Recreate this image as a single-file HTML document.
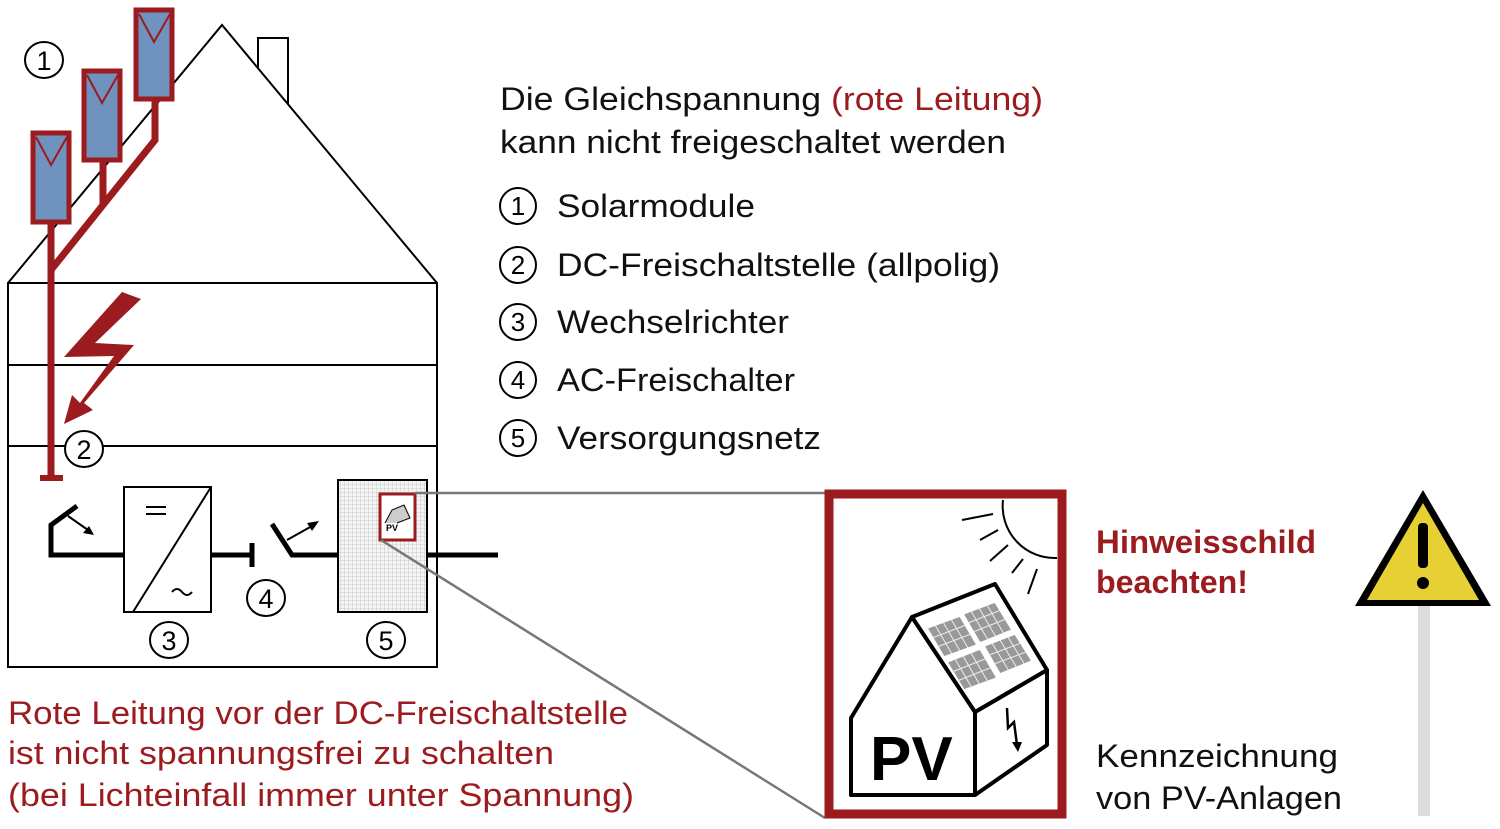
<!DOCTYPE html>
<html><head><meta charset="utf-8"><style>body{margin:0;background:#fff}svg{display:block}text{font-family:"Liberation Sans",sans-serif}</style></head><body>
<svg width="1500" height="829" viewBox="0 0 1500 829" xmlns="http://www.w3.org/2000/svg">
<defs>
<pattern id="g" width="4" height="4" patternUnits="userSpaceOnUse"><rect width="4" height="4" fill="#f4f4f4"/><path d="M0 0H4M0 0V4" stroke="#aaa" stroke-width="0.6"/></pattern>
</defs>
<g fill="none" stroke="#000" stroke-width="2">
<polyline points="258,68 258,38 288,38 288,104"/>
<polyline points="8,283 222,25 437,283"/>
<rect x="8" y="283" width="429" height="384"/>
<line x1="8" y1="365" x2="437" y2="365"/><line x1="8" y1="446" x2="437" y2="446"/>
</g>
<g stroke="#9b1b1e" stroke-width="7" fill="none">
<line x1="51" y1="222" x2="51" y2="476"/>
<polyline points="155,100 155,140 51,270"/>
<line x1="103" y1="160" x2="103" y2="205"/>
<line x1="40" y1="478" x2="63" y2="478" stroke-width="6"/>
</g>
<g fill="#7092be" stroke="#9b1b1e" stroke-width="5">
<rect x="33" y="133" width="36" height="89"/><rect x="84" y="71" width="36" height="89"/><rect x="136" y="10" width="36" height="89"/>
</g>
<g fill="none" stroke="#9b1b1e" stroke-width="2">
<polyline points="36,137 51,165 67,137"/><polyline points="87,75 102,103 118,75"/><polyline points="139,14 154,42 170,14"/>
</g>
<polygon fill="#9b1b1e" points="122,292 141,299 95,343 134,345 84,403 93,410 64,424 72,395 80,403 114,356 64,357"/>
<g fill="#fff" stroke="#000" stroke-width="2">
<ellipse cx="44" cy="60" rx="19" ry="18"/><ellipse cx="84" cy="449" rx="19" ry="18"/>
<ellipse cx="266" cy="598" rx="19" ry="18"/><ellipse cx="169" cy="640" rx="19" ry="18"/><ellipse cx="386" cy="640" rx="19" ry="18"/>
</g>
<g font-size="27" text-anchor="middle">
<text x="44" y="70">1</text><text x="84" y="459">2</text><text x="266" y="608">4</text><text x="169" y="650">3</text><text x="386" y="650">5</text>
</g>
<g stroke="#000" fill="none">
<polyline points="124,555 51,555 51,525 77,506" stroke-width="5"/>
<line x1="68" y1="516" x2="88" y2="530" stroke-width="2"/>
<polygon points="94,535 83,533 89,526" fill="#000" stroke-width="0"/>
<rect x="124" y="487" width="87" height="125" stroke-width="2" fill="#fff"/>
<line x1="133" y1="612" x2="211" y2="487" stroke-width="2"/>
<line x1="146" y1="507" x2="166" y2="507" stroke-width="2"/><line x1="146" y1="514" x2="166" y2="514" stroke-width="2"/>
<path d="M172 592 q5 -6 10 0 t10 0" stroke-width="2"/>
<line x1="211" y1="555" x2="252" y2="555" stroke-width="5"/>
<line x1="252" y1="543" x2="252" y2="567" stroke-width="5"/>
<polyline points="272,524 292,555 338,555" stroke-width="5"/>
<line x1="287" y1="540" x2="312" y2="526" stroke-width="2"/>
<polygon points="319,521 312,531 307,523" fill="#000" stroke-width="0"/>
<rect x="338" y="480" width="89" height="132" fill="url(#g)" stroke-width="2"/>
<line x1="427" y1="555" x2="498" y2="555" stroke-width="5"/>
</g>
<rect x="380" y="494" width="35" height="46" fill="#fff" stroke="#9b1b1e" stroke-width="3"/>
<text x="386" y="531" font-size="9" font-weight="bold">PV</text>
<polyline points="385,523 392,510 404,505 410,518 397,523" fill="#ccc" stroke="#000" stroke-width="1"/>
<g stroke="#777" stroke-width="2.5"><line x1="415" y1="493" x2="825" y2="493"/><line x1="381" y1="540" x2="825" y2="818"/></g>
<rect x="829" y="494" width="233" height="320" fill="#fff" stroke="#9b1b1e" stroke-width="9"/>
<g stroke="#000" stroke-width="2" fill="none">
<path d="M1003 500 A52 52 0 0 0 1057 558"/>
<line x1="962" y1="520" x2="993" y2="514"/><line x1="980" y1="540" x2="998" y2="530"/>
<line x1="990" y1="561" x2="1008" y2="545"/><line x1="1012" y1="573" x2="1023" y2="559"/><line x1="1028" y1="594" x2="1037" y2="569"/>
</g>
<g stroke="#000" stroke-width="4" fill="#fff" stroke-linejoin="round">
<polygon points="851,795 851,718 912,617 975,712 975,795"/>
<polygon points="975,795 1047,745 1047,670 975,712"/>
<polygon points="912,617 995,584 1047,670 975,712"/>
</g>
<g fill="#999" stroke="#fff" stroke-width="1.5">
<polygon points="927,628 960,616 977,645 944,657" /><polygon points="963,614 995,602 1012,630 980,643"/>
<polygon points="947,662 980,649 997,678 964,690"/><polygon points="984,646 1015,634 1032,661 1000,674"/>
</g>
<g stroke="#eee" stroke-width="1">
<path d="M935 625 L952 654 M943 622 L960 651 M951 619 L968 648 M932 638 L966 625 M937 647 L971 634 M971 611 L988 640 M979 608 L996 637 M987 605 L1004 634 M968 623 L1001 610 M973 632 L1006 619 M955 659 L972 688 M963 656 L980 685 M971 653 L988 682 M952 672 L985 659 M957 681 L990 668 M992 643 L1009 671 M1000 640 L1017 668 M1008 637 L1025 665 M989 655 L1021 643 M994 664 L1026 652"/>
</g>
<text x="870" y="780" font-size="62" font-weight="bold">PV</text>
<path d="M1007 708 L1008 728 L1014 722 L1017 745" stroke="#000" stroke-width="2.5" fill="none"/>
<polygon points="1012,742 1022,742 1018,752" fill="#000"/>
<polygon points="1423,490 1355,606 1491,606" fill="#000"/>
<polygon points="1423,503 1367,600 1479,600" fill="#e6d033"/>
<rect x="1418" y="606" width="12" height="210" fill="#ddd"/>
<rect x="1418" y="523" width="10" height="45" rx="4" fill="#000"/>
<circle cx="1423" cy="583" r="6" fill="#000"/>
<g font-size="32" fill="#111">
<text x="500" y="110" textLength="543" lengthAdjust="spacingAndGlyphs">Die Gleichspannung <tspan fill="#9b1b1e">(rote Leitung)</tspan></text>
<text x="500" y="153" textLength="506" lengthAdjust="spacingAndGlyphs">kann nicht freigeschaltet werden</text>
<text x="557" y="217" textLength="198" lengthAdjust="spacingAndGlyphs">Solarmodule</text>
<text x="557" y="276" textLength="443" lengthAdjust="spacingAndGlyphs">DC-Freischaltstelle (allpolig)</text>
<text x="557" y="333" textLength="232" lengthAdjust="spacingAndGlyphs">Wechselrichter</text>
<text x="557" y="391" textLength="238" lengthAdjust="spacingAndGlyphs">AC-Freischalter</text>
<text x="557" y="449" textLength="264" lengthAdjust="spacingAndGlyphs">Versorgungsnetz</text>
<text x="1096" y="767" textLength="242" lengthAdjust="spacingAndGlyphs">Kennzeichnung</text>
<text x="1096" y="809" textLength="246" lengthAdjust="spacingAndGlyphs">von PV-Anlagen</text>
</g>
<g fill="#fff" stroke="#000" stroke-width="2">
<circle cx="518" cy="206" r="18"/><circle cx="518" cy="265" r="18"/><circle cx="518" cy="322" r="18"/><circle cx="518" cy="380" r="18"/><circle cx="518" cy="438" r="18"/>
</g>
<g font-size="26" text-anchor="middle">
<text x="518" y="215">1</text><text x="518" y="274">2</text><text x="518" y="331">3</text><text x="518" y="389">4</text><text x="518" y="447">5</text>
</g>
<g font-size="32" fill="#9b1b1e">
<text x="8" y="724" textLength="620" lengthAdjust="spacingAndGlyphs">Rote Leitung vor der DC-Freischaltstelle</text>
<text x="8" y="764" textLength="546" lengthAdjust="spacingAndGlyphs">ist nicht spannungsfrei zu schalten</text>
<text x="8" y="806" textLength="626" lengthAdjust="spacingAndGlyphs">(bei Lichteinfall immer unter Spannung)</text>
<text x="1096" y="553" font-weight="bold" textLength="220" lengthAdjust="spacingAndGlyphs">Hinweisschild</text>
<text x="1096" y="593" font-weight="bold" textLength="152" lengthAdjust="spacingAndGlyphs">beachten!</text>
</g>
</svg>
</body></html>
